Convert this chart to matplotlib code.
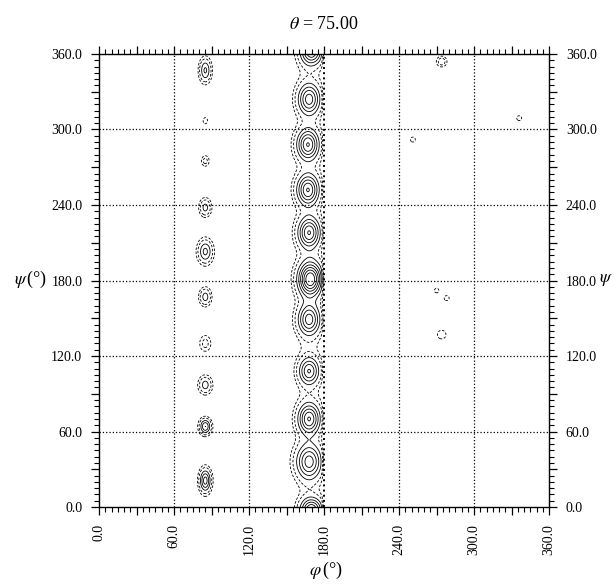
import numpy as np
import matplotlib
matplotlib.use('Agg')
import matplotlib.pyplot as plt
from matplotlib.ticker import MultipleLocator, FuncFormatter

# peak tables (phi, psi in degrees)
left_phi = [85, 85, 85, 85, 85, 85, 85, 85, 85, 85]
left_psi = [347, 307, 275, 238, 203, 167, 130, 97, 64, 21]
left_amp = [3.2, 0.8, 1.3, 2.4, 3.3, 2.5, 1.3, 2.5, 4.0, 4.5]
left_sphi = [3.0, 1.8, 2.2, 3.0, 3.8, 3.0, 3.2, 3.4, 3.0, 3.0]
left_spsi = [6.0, 2.5, 3.0, 4.5, 6.0, 4.5, 4.5, 4.5, 4.0, 6.0]

mid_phi = [170, 168, 167, 167, 168, 169, 168, 168, 168, 168, 170]
mid_psi = [362, 324, 288, 252, 218, 181, 149, 108, 70, 36, -2]
mid_amp = [5.5, 5.0, 5.5, 5.5, 5.5, 7.5, 5.0, 4.5, 5.5, 5.0, 5.5]
mid_sphi = [6, 6, 6, 6, 6, 6.5, 6, 5.5, 6, 7, 6]
mid_spsi = [7, 8, 8, 8, 8, 9, 8, 7, 8, 9, 6]
band_amp = 0.6

right_phi = [274, 251, 336, 270, 278, 274]
right_psi = [354, 292, 309, 172, 166, 137]
right_amp = [1.6, 0.8, 0.8, 0.75, 0.75, 0.75]
right_s = [2.8, 2.0, 2.0, 2.0, 2.2, 3.8]

levels = [0.5, 1, 2, 3, 4, 5, 6, 7]
grid_vals = [60, 120, 180, 240, 300]

phi = np.arange(0, 360.01, 0.5)
psi = np.arange(0, 360.01, 0.5)
P, S = np.meshgrid(phi, psi)

def g(p0, s0, sp, ss):
    return np.exp(-((P - p0) ** 2 / (2 * sp ** 2) + (S - s0) ** 2 / (2 * ss ** 2)))

Z = np.zeros_like(P)
for p0, s0, a, sp, ss in zip(left_phi, left_psi, left_amp, left_sphi, left_spsi):
    Z += a * g(p0, s0, sp, ss)
Zm = band_amp * np.exp(-(P - 168) ** 2 / (2 * 6.5 ** 2))
for p0, s0, a, sp, ss in zip(mid_phi, mid_psi, mid_amp, mid_sphi, mid_spsi):
    Zm += a * g(p0, s0, sp, ss)
Zm *= 1.0 / (1.0 + np.exp((P - 179.0) / 0.6))
Z += Zm
for p0, s0, a, s in zip(right_phi, right_psi, right_amp, right_s):
    Z += a * g(p0, s0, s, s)

plt.rcParams['font.family'] = ['Liberation Serif', 'DejaVu Serif']
plt.rcParams['mathtext.fontset'] = 'stix'

fig = plt.figure(figsize=(6.15, 5.85), dpi=100)
ax = fig.add_axes([0.161, 0.1333, 0.732, 0.7744])

styles = [(0, (3, 2)) if lv < 1.5 else 'solid' for lv in levels]
ax.contour(P, S, Z, levels=levels, colors='k', linewidths=0.6, linestyles=styles)

for v in grid_vals:
    lw = 1.4 if v == 180 else 0.9
    ax.axvline(v, color='k', ls=':', lw=lw, zorder=0)
    ax.axhline(v, color='k', ls=':', lw=0.9, zorder=0)

ax.set_xlim(0, 360)
ax.set_ylim(0, 360)
fmt = FuncFormatter(lambda v, pos: f'{v:.1f}' if v % 60 == 0 else '')
for axis in (ax.xaxis, ax.yaxis):
    axis.set_major_locator(MultipleLocator(30))
    axis.set_minor_locator(MultipleLocator(5))
    axis.set_major_formatter(fmt)
ax.tick_params(which='both', direction='out', top=True, right=True,
               labelright=True, colors='k', labelsize=10)
ax.tick_params(which='major', length=6, width=0.9, pad=6)
ax.tick_params(which='minor', length=3.5, width=0.8)
for lab in ax.get_xticklabels():
    lab.set_rotation(90)
for sp in ax.spines.values():
    sp.set_linewidth(1.0)

ax.set_title(r'$\theta$ = 75.00', fontsize=13, pad=18)
fig.text(0.05, 0.522, r'$\psi\,$(°)', fontsize=13, ha='center', va='center')
fig.text(0.974, 0.522, r'$\psi$', fontsize=13, ha='left', va='center')
fig.text(0.53, 0.025, r'$\varphi\,$(°)', fontsize=13, ha='center', va='center')

fig.savefig('out.png', dpi=100)
